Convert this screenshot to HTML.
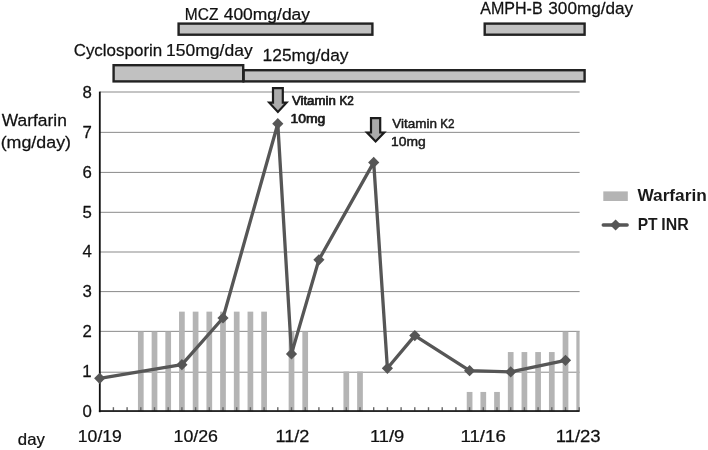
<!DOCTYPE html>
<html><head><meta charset="utf-8"><title>chart</title>
<style>html,body{margin:0;padding:0;background:#fff}svg{display:block;will-change:transform}text{font-family:"Liberation Sans",sans-serif}</style></head><body>
<svg width="708" height="450" viewBox="0 0 708 450">
<defs><clipPath id="pc"><rect x="99" y="80" width="480.6" height="340"/></clipPath></defs>
<rect x="100" y="371.70" width="479.6" height="1" fill="#8a8a8a"/>
<rect x="100" y="330.85" width="479.6" height="1" fill="#8a8a8a"/>
<rect x="100" y="291.10" width="479.6" height="1" fill="#8a8a8a"/>
<rect x="100" y="251.50" width="479.6" height="1" fill="#8a8a8a"/>
<rect x="100" y="211.80" width="479.6" height="1" fill="#8a8a8a"/>
<rect x="100" y="171.90" width="479.6" height="1" fill="#8a8a8a"/>
<rect x="100" y="131.85" width="479.6" height="1" fill="#8a8a8a"/>
<rect x="100" y="91.50" width="479.6" height="1" fill="#8a8a8a"/>
<g clip-path="url(#pc)" fill="#b4b4b4">
<rect x="137.95" y="331.60" width="5.7" height="79.80"/>
<rect x="151.65" y="331.60" width="5.7" height="79.80"/>
<rect x="165.35" y="331.60" width="5.7" height="79.80"/>
<rect x="179.05" y="311.65" width="5.7" height="99.75"/>
<rect x="192.75" y="311.65" width="5.7" height="99.75"/>
<rect x="206.45" y="311.65" width="5.7" height="99.75"/>
<rect x="220.15" y="311.65" width="5.7" height="99.75"/>
<rect x="233.85" y="311.65" width="5.7" height="99.75"/>
<rect x="247.55" y="311.65" width="5.7" height="99.75"/>
<rect x="261.25" y="311.65" width="5.7" height="99.75"/>
<rect x="288.65" y="331.60" width="5.7" height="79.80"/>
<rect x="302.35" y="331.60" width="5.7" height="79.80"/>
<rect x="343.45" y="371.50" width="5.7" height="39.90"/>
<rect x="357.15" y="371.50" width="5.7" height="39.90"/>
<rect x="466.75" y="391.95" width="5.7" height="19.45"/>
<rect x="480.45" y="391.95" width="5.7" height="19.45"/>
<rect x="494.15" y="391.95" width="5.7" height="19.45"/>
<rect x="507.85" y="352.05" width="5.7" height="59.35"/>
<rect x="521.55" y="352.05" width="5.7" height="59.35"/>
<rect x="535.25" y="352.05" width="5.7" height="59.35"/>
<rect x="548.95" y="352.05" width="5.7" height="59.35"/>
<rect x="562.65" y="331.60" width="5.7" height="79.80"/>
<rect x="576.35" y="331.60" width="5.7" height="79.80"/>
</g>
<rect x="112.70" y="407.2" width="1.4" height="3.4" fill="#666"/>
<rect x="126.40" y="407.2" width="1.4" height="3.4" fill="#666"/>
<rect x="140.10" y="407.2" width="1.4" height="3.4" fill="#666"/>
<rect x="153.80" y="407.2" width="1.4" height="3.4" fill="#666"/>
<rect x="167.50" y="407.2" width="1.4" height="3.4" fill="#666"/>
<rect x="181.20" y="407.2" width="1.4" height="3.4" fill="#666"/>
<rect x="194.90" y="407.2" width="1.4" height="3.4" fill="#666"/>
<rect x="208.60" y="407.2" width="1.4" height="3.4" fill="#666"/>
<rect x="222.30" y="407.2" width="1.4" height="3.4" fill="#666"/>
<rect x="236.00" y="407.2" width="1.4" height="3.4" fill="#666"/>
<rect x="249.70" y="407.2" width="1.4" height="3.4" fill="#666"/>
<rect x="263.40" y="407.2" width="1.4" height="3.4" fill="#666"/>
<rect x="277.10" y="407.2" width="1.4" height="3.4" fill="#666"/>
<rect x="290.80" y="407.2" width="1.4" height="3.4" fill="#666"/>
<rect x="304.50" y="407.2" width="1.4" height="3.4" fill="#666"/>
<rect x="318.20" y="407.2" width="1.4" height="3.4" fill="#666"/>
<rect x="331.90" y="407.2" width="1.4" height="3.4" fill="#666"/>
<rect x="345.60" y="407.2" width="1.4" height="3.4" fill="#666"/>
<rect x="359.30" y="407.2" width="1.4" height="3.4" fill="#666"/>
<rect x="373.00" y="407.2" width="1.4" height="3.4" fill="#666"/>
<rect x="386.70" y="407.2" width="1.4" height="3.4" fill="#666"/>
<rect x="400.40" y="407.2" width="1.4" height="3.4" fill="#666"/>
<rect x="414.10" y="407.2" width="1.4" height="3.4" fill="#666"/>
<rect x="427.80" y="407.2" width="1.4" height="3.4" fill="#666"/>
<rect x="441.50" y="407.2" width="1.4" height="3.4" fill="#666"/>
<rect x="455.20" y="407.2" width="1.4" height="3.4" fill="#666"/>
<rect x="468.90" y="407.2" width="1.4" height="3.4" fill="#666"/>
<rect x="482.60" y="407.2" width="1.4" height="3.4" fill="#666"/>
<rect x="496.30" y="407.2" width="1.4" height="3.4" fill="#666"/>
<rect x="510.00" y="407.2" width="1.4" height="3.4" fill="#666"/>
<rect x="523.70" y="407.2" width="1.4" height="3.4" fill="#666"/>
<rect x="537.40" y="407.2" width="1.4" height="3.4" fill="#666"/>
<rect x="551.10" y="407.2" width="1.4" height="3.4" fill="#666"/>
<rect x="564.80" y="407.2" width="1.4" height="3.4" fill="#666"/>
<rect x="578.50" y="407.2" width="1.4" height="3.4" fill="#666"/>
<rect x="98.9" y="91.6" width="1.8" height="320.6" fill="#111"/>
<rect x="98.9" y="410.2" width="480.7" height="1.7" fill="#111"/>
<polyline points="99.7,378.3 181.9,364.7 223.0,318.0 277.8,123.7 291.5,353.9 318.9,259.8 373.7,162.4 387.4,368.3 414.8,335.6 469.6,370.7 510.7,371.9 565.5,360.3" fill="none" stroke="#565656" stroke-width="3.3" stroke-linejoin="round" stroke-linecap="round"/>
<polygon points="94.1,378.3 99.7,372.7 105.3,378.3 99.7,383.9" fill="#565656"/>
<polygon points="176.3,364.7 181.9,359.1 187.5,364.7 181.9,370.3" fill="#565656"/>
<polygon points="217.4,318.0 223.0,312.4 228.6,318.0 223.0,323.6" fill="#565656"/>
<polygon points="272.2,123.7 277.8,118.1 283.4,123.7 277.8,129.3" fill="#565656"/>
<polygon points="285.9,353.9 291.5,348.3 297.1,353.9 291.5,359.5" fill="#565656"/>
<polygon points="313.3,259.8 318.9,254.2 324.5,259.8 318.9,265.4" fill="#565656"/>
<polygon points="368.1,162.4 373.7,156.8 379.3,162.4 373.7,168.0" fill="#565656"/>
<polygon points="381.8,368.3 387.4,362.7 393.0,368.3 387.4,373.9" fill="#565656"/>
<polygon points="409.2,335.6 414.8,330.0 420.4,335.6 414.8,341.2" fill="#565656"/>
<polygon points="464.0,370.7 469.6,365.1 475.2,370.7 469.6,376.3" fill="#565656"/>
<polygon points="505.1,371.9 510.7,366.3 516.3,371.9 510.7,377.5" fill="#565656"/>
<polygon points="559.9,360.3 565.5,354.7 571.1,360.3 565.5,365.9" fill="#565656"/>
<rect x="178.60" y="23.60" width="193.80" height="11.10" fill="#c1c1c1" stroke="#222" stroke-width="2.4"/>
<rect x="484.70" y="23.60" width="99.90" height="11.10" fill="#c1c1c1" stroke="#222" stroke-width="2.4"/>
<rect x="243.60" y="70.20" width="341.00" height="11.20" fill="#c1c1c1" stroke="#222" stroke-width="2.4"/>
<rect x="113.60" y="65.20" width="129.60" height="16.20" fill="#c1c1c1" stroke="#222" stroke-width="2.4"/>
<polygon points="273.0,88.2 282.79999999999995,88.2 282.79999999999995,102.7 286.5,102.7 277.9,111.9 269.29999999999995,102.7 273.0,102.7" fill="#ababab" stroke="#1c1c1c" stroke-width="2.2" stroke-linejoin="miter"/>
<polygon points="371.0,118.2 380.20000000000005,118.2 380.20000000000005,132.5 384.20000000000005,132.5 375.6,141.5 367.0,132.5 371.0,132.5" fill="#ababab" stroke="#1c1c1c" stroke-width="2.2" stroke-linejoin="miter"/>
<text transform="translate(184.79 19.7) scale(0.8907 1)" font-size="17.4" font-weight="400" fill="#111" stroke="#111" stroke-width="0.25" stroke-linejoin="round">MCZ</text>
<text transform="translate(223.68 19.7) scale(1.0036 1)" font-size="17.4" font-weight="400" fill="#111" stroke="#111" stroke-width="0.25" stroke-linejoin="round">400mg/day</text>
<text transform="translate(480.23 14.0) scale(0.9234 1)" font-size="17.4" font-weight="400" fill="#111" stroke="#111" stroke-width="0.25" stroke-linejoin="round">AMPH-B</text>
<text transform="translate(548.32 14.0) scale(0.9868 1)" font-size="17.4" font-weight="400" fill="#111" stroke="#111" stroke-width="0.25" stroke-linejoin="round">300mg/day</text>
<text transform="translate(73.63 55.8) scale(0.9757 1)" font-size="17.4" font-weight="400" fill="#111" stroke="#111" stroke-width="0.25" stroke-linejoin="round">Cyclosporin</text>
<text transform="translate(166.11 55.8) scale(1.0055 1)" font-size="17.4" font-weight="400" fill="#111" stroke="#111" stroke-width="0.25" stroke-linejoin="round">150mg/day</text>
<text transform="translate(262.62 61.0) scale(0.9984 1)" font-size="17.4" font-weight="400" fill="#111" stroke="#111" stroke-width="0.25" stroke-linejoin="round">125mg/day</text>
<text transform="translate(1.73 125.8) scale(1.0422 1)" font-size="16.7" font-weight="400" fill="#111" stroke="#111" stroke-width="0.25" stroke-linejoin="round">Warfarin</text>
<text transform="translate(0.66 147.7) scale(1.0678 1)" font-size="16.7" font-weight="400" fill="#111" stroke="#111" stroke-width="0.25" stroke-linejoin="round">(mg/day)</text>
<text transform="translate(17.85 444.6) scale(1.0035 1)" font-size="16.7" font-weight="400" fill="#111" stroke="#111" stroke-width="0.25" stroke-linejoin="round">day</text>
<text transform="translate(82.54 417.0) scale(1.0300 1)" font-size="16.3" font-weight="400" fill="#111" stroke="#111" stroke-width="0.25" stroke-linejoin="round">0</text>
<text transform="translate(82.29 377.1) scale(1.0300 1)" font-size="16.3" font-weight="400" fill="#111" stroke="#111" stroke-width="0.25" stroke-linejoin="round">1</text>
<text transform="translate(82.50 337.2) scale(1.0300 1)" font-size="16.3" font-weight="400" fill="#111" stroke="#111" stroke-width="0.25" stroke-linejoin="round">2</text>
<text transform="translate(82.58 297.3) scale(1.0300 1)" font-size="16.3" font-weight="400" fill="#111" stroke="#111" stroke-width="0.25" stroke-linejoin="round">3</text>
<text transform="translate(82.58 257.4) scale(1.0300 1)" font-size="16.3" font-weight="400" fill="#111" stroke="#111" stroke-width="0.25" stroke-linejoin="round">4</text>
<text transform="translate(82.54 217.49999999999997) scale(1.0300 1)" font-size="16.3" font-weight="400" fill="#111" stroke="#111" stroke-width="0.25" stroke-linejoin="round">5</text>
<text transform="translate(82.46 177.6) scale(1.0300 1)" font-size="16.3" font-weight="400" fill="#111" stroke="#111" stroke-width="0.25" stroke-linejoin="round">6</text>
<text transform="translate(82.50 137.69999999999996) scale(1.0300 1)" font-size="16.3" font-weight="400" fill="#111" stroke="#111" stroke-width="0.25" stroke-linejoin="round">7</text>
<text transform="translate(82.54 97.79999999999998) scale(1.0300 1)" font-size="16.3" font-weight="400" fill="#111" stroke="#111" stroke-width="0.25" stroke-linejoin="round">8</text>
<text transform="translate(77.80 442.0) scale(1.0808 1)" font-size="16.3" font-weight="400" fill="#111" stroke="#111" stroke-width="0.25" stroke-linejoin="round">10/19</text>
<text transform="translate(173.49 442.0) scale(1.0914 1)" font-size="16.3" font-weight="400" fill="#111" stroke="#111" stroke-width="0.25" stroke-linejoin="round">10/26</text>
<text transform="translate(275.57 442.0) scale(1.1090 1)" font-size="16.3" font-weight="400" fill="#111" stroke="#111" stroke-width="0.25" stroke-linejoin="round">11/2</text>
<text transform="translate(369.95 442.0) scale(1.1230 1)" font-size="16.3" font-weight="400" fill="#111" stroke="#111" stroke-width="0.25" stroke-linejoin="round">11/9</text>
<text transform="translate(460.42 442.0) scale(1.1476 1)" font-size="16.3" font-weight="400" fill="#111" stroke="#111" stroke-width="0.25" stroke-linejoin="round">11/16</text>
<text transform="translate(555.74 442.0) scale(1.1344 1)" font-size="16.3" font-weight="400" fill="#111" stroke="#111" stroke-width="0.25" stroke-linejoin="round">11/23</text>
<text transform="translate(291.95 104.9) scale(1.0917 1)" font-size="12.1" font-weight="400" fill="#1a1a1a" stroke="#1a1a1a" stroke-width="0.7" stroke-linejoin="round">Vitamin</text>
<text transform="translate(339.51 104.9) scale(0.9719 1)" font-size="12.1" font-weight="400" fill="#1a1a1a" stroke="#1a1a1a" stroke-width="0.7" stroke-linejoin="round">K2</text>
<text transform="translate(290.51 122.5) scale(1.1495 1)" font-size="12.1" font-weight="400" fill="#1a1a1a" stroke="#1a1a1a" stroke-width="0.7" stroke-linejoin="round">10mg</text>
<text transform="translate(392.23 127.8) scale(1.1158 1)" font-size="12.1" font-weight="400" fill="#1a1a1a" stroke="#1a1a1a" stroke-width="0.45" stroke-linejoin="round">Vitamin</text>
<text transform="translate(440.19 127.8) scale(0.9681 1)" font-size="12.1" font-weight="400" fill="#1a1a1a" stroke="#1a1a1a" stroke-width="0.45" stroke-linejoin="round">K2</text>
<text transform="translate(390.98 146.2) scale(1.1478 1)" font-size="12.1" font-weight="400" fill="#1a1a1a" stroke="#1a1a1a" stroke-width="0.45" stroke-linejoin="round">10mg</text>
<text transform="translate(637.40 201.4) scale(1.0537 1)" font-size="16.4" font-weight="700" fill="#1a1a1a">Warfarin</text>
<text transform="translate(637.69 230.3) scale(0.9498 1)" font-size="16.4" font-weight="700" fill="#1a1a1a">PT</text>
<text transform="translate(661.37 230.3) scale(0.9704 1)" font-size="16.4" font-weight="700" fill="#1a1a1a">INR</text>
<rect x="603.3" y="191.4" width="24.5" height="9.6" fill="#b4b4b4"/>
<line x1="603.2" y1="225" x2="627.2" y2="225" stroke="#565656" stroke-width="3.3" stroke-linecap="round"/>
<polygon points="610.0,225 615.6,219.4 621.2,225 615.6,230.6" fill="#565656"/>
</svg></body></html>
